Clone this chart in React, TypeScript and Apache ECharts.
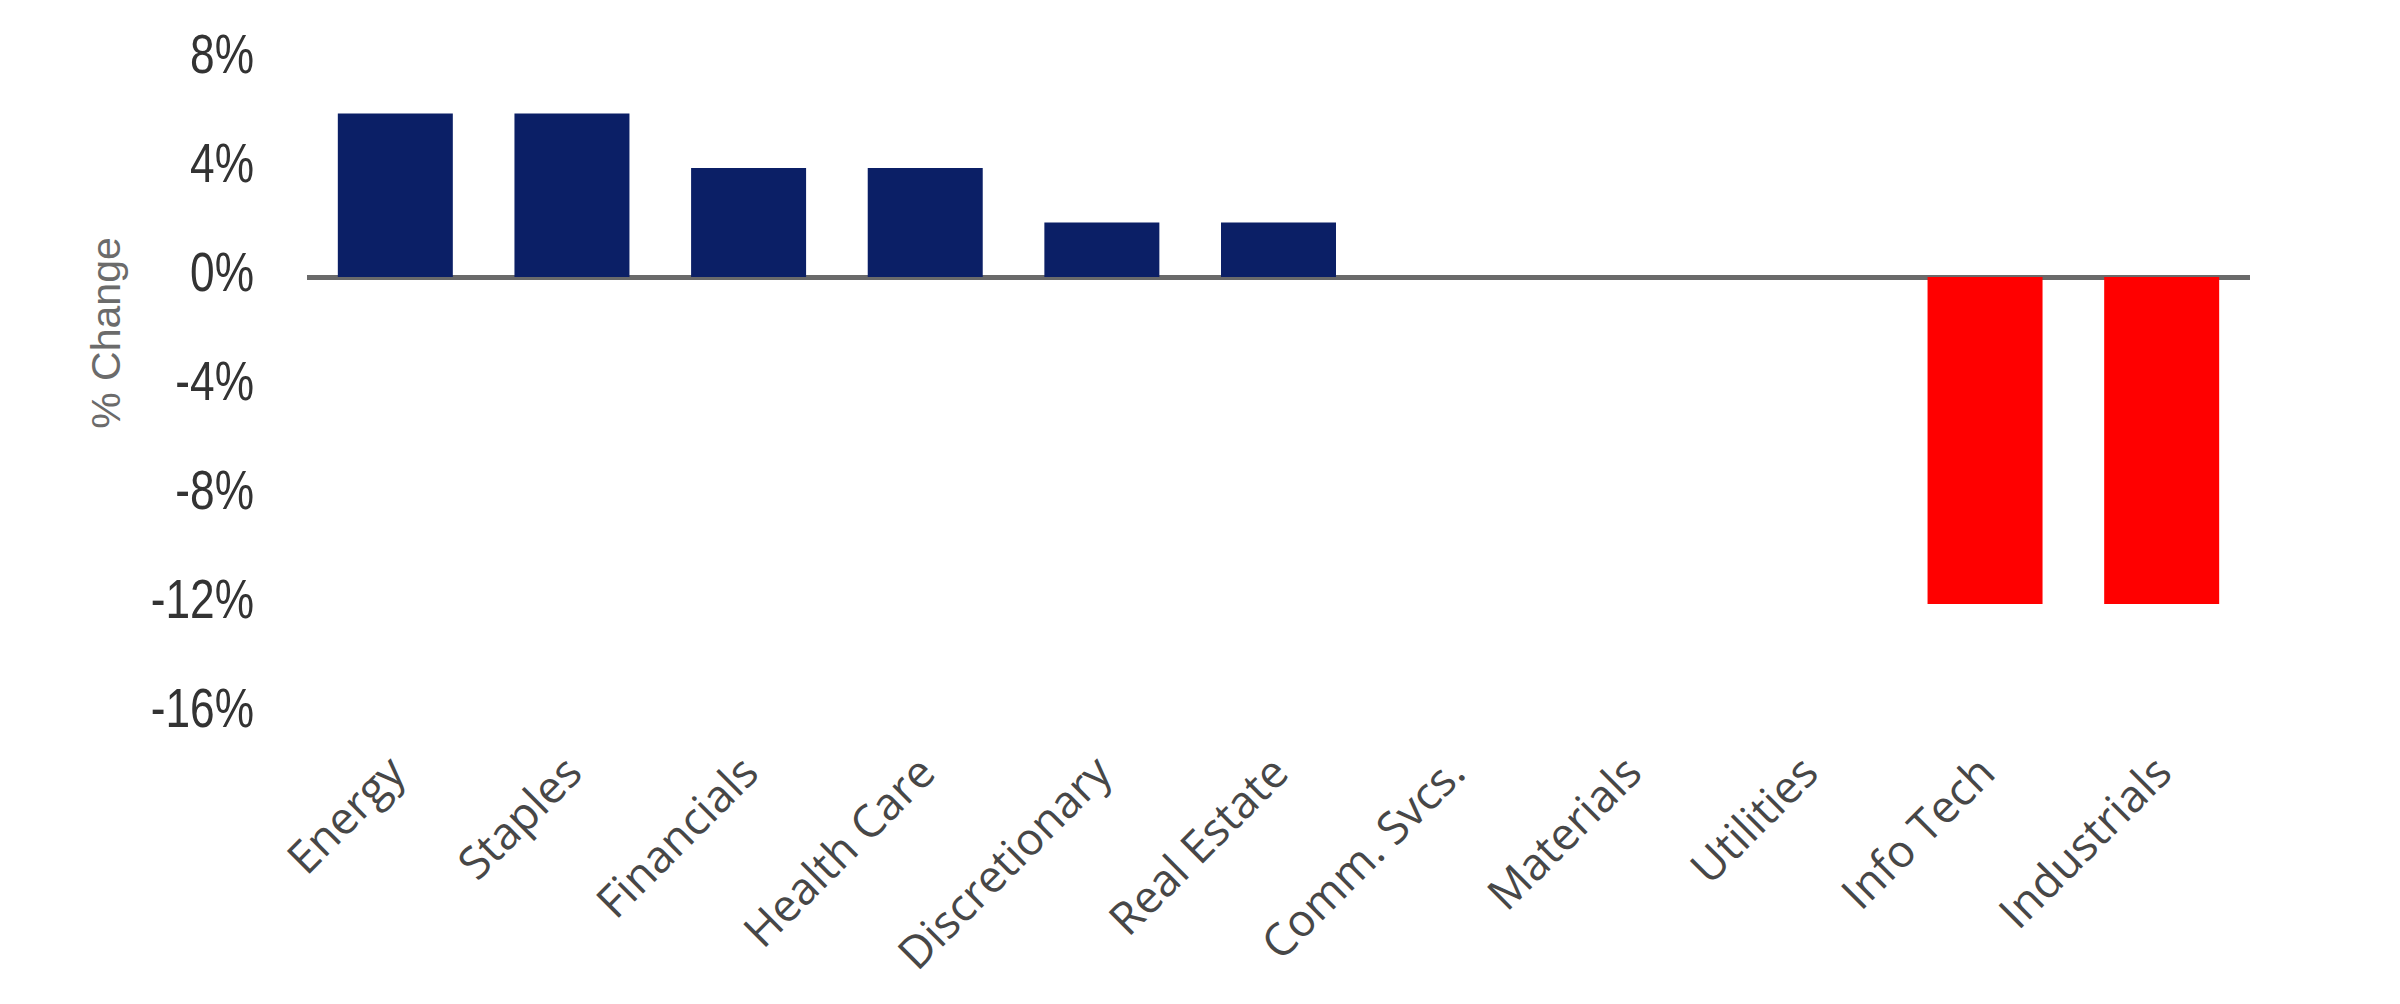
import React, { useEffect, useRef } from "react";
import * as echarts from "echarts";

const categories = [
  "Energy",
  "Staples",
  "Financials",
  "Health Care",
  "Discretionary",
  "Real Estate",
  "Comm. Svcs.",
  "Materials",
  "Utilities",
  "Info Tech",
  "Industrials",
];
const changeValues = [6, 6, 4, 4, 2, 2, 0, 0, 0, -12, -12];
const yTicks = [8, 4, 0, -4, -8, -12, -16];
const yMin = -16;
const yMax = 8;
const yStep = 4;
const yAxisTitle = "% Change";

const POS_COLOR = "#0b1f66";
const NEG_COLOR = "#ff0000";

export default function App() {
  const ref = useRef<HTMLDivElement>(null);

  useEffect(() => {
    document.body.style.margin = "0";
    if (!ref.current) return;
    const chart = echarts.init(ref.current, null, { renderer: "svg" });
    chart.setOption({
      animation: false,
      backgroundColor: "#ffffff",
      grid: { left: 307, top: 59, width: 1943, height: 654, containLabel: false },
      xAxis: {
        type: "category",
        data: categories,
        position: "bottom",
        axisLine: { show: false, onZero: false },
        axisTick: { show: false },
        splitLine: { show: false },
        axisLabel: {
          rotate: 45,
          interval: 0,
          margin: 50,
          fontFamily: "Open Sans",
          fontSize: 45,
          color: "#474747",
        },
      },
      yAxis: {
        type: "value",
        min: yMin,
        max: yMax,
        interval: yStep,
        axisLine: { show: false },
        axisTick: { show: false },
        splitLine: { show: false },
        axisLabel: { show: false },
      },
      series: [
        {
          type: "bar",
          barWidth: 115,
          data: changeValues.map((v) => ({
            value: v,
            itemStyle: { color: v >= 0 ? POS_COLOR : NEG_COLOR },
          })),
          markLine: {
            silent: true,
            symbol: "none",
            z: 1,
            label: { show: false },
            lineStyle: { color: "#6a6a6a", width: 5, type: "solid" },
            data: [{ yAxis: 0 }],
          },
        },
      ],
    });

    const tickTexts = yTicks.map((v) => {
      const py = chart.convertToPixel({ yAxisIndex: 0 }, v) as number;
      return {
        type: "text",
        x: 254,
        y: py - 5,
        scaleX: 0.79,
        style: {
          text: `${v}%`,
          fontFamily: "Liberation Sans",
          fontSize: 56,
          fill: "#333333",
          textAlign: "right",
          textVerticalAlign: "middle",
        },
      };
    });

    chart.setOption({
      graphic: [
        ...tickTexts,
        {
          type: "text",
          x: 106,
          y: 333,
          rotation: Math.PI / 2,
          style: {
            text: yAxisTitle,
            fontFamily: "Liberation Sans",
            fontSize: 41,
            fill: "#6b6b6b",
            textAlign: "center",
            textVerticalAlign: "middle",
          },
        },
      ],
    });
    return () => chart.dispose();
  }, []);

  return <div ref={ref} style={{ width: 2400, height: 1004 }} />;
}
